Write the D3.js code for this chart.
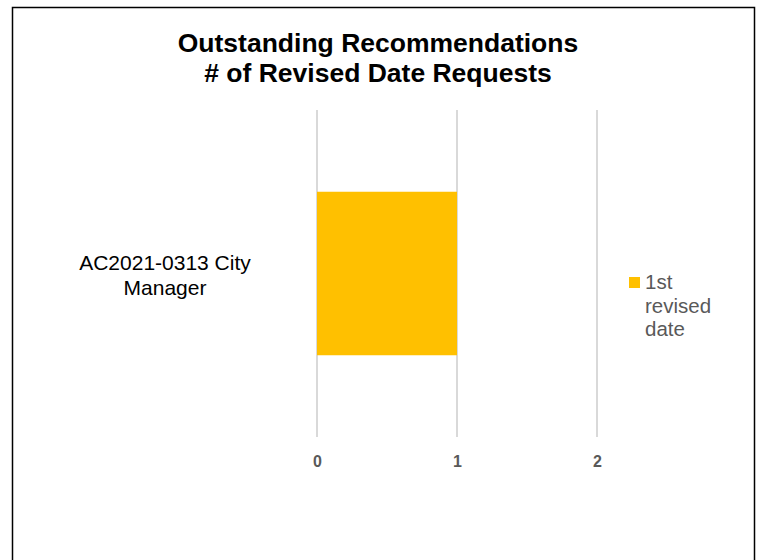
<!DOCTYPE html>
<html>
<head>
<meta charset="utf-8">
<script src="https://cdn.jsdelivr.net/npm/d3@7"></script>
<style>
  body { margin: 0; background: #fff; }
  svg { display: block; font-family: "Liberation Sans", Arial, sans-serif; }
</style>
</head>
<body>
<script>
// chart data
var categories = ["AC2021-0313 City Manager"];
var seriesNames = ["1st revised date"];
var seriesValues = [1];
var xTicks = [0, 1, 2];
var titleLines = ["Outstanding Recommendations", "# of Revised Date Requests"];

var width = 759, height = 560;
var plot = { left: 317, right: 597, top: 110, bottom: 437 };

var svg = d3.select("body").append("svg")
  .attr("width", width)
  .attr("height", height);

svg.append("rect")
  .attr("x", 12.5).attr("y", 7.5)
  .attr("width", 742).attr("height", 560)
  .attr("fill", "#fff")
  .attr("stroke", "#000")
  .attr("stroke-width", 1.5);

var x = d3.scaleLinear()
  .domain([0, 2])
  .range([plot.left, plot.right]);

// gap width 100%: bar takes half the category band
var y = d3.scaleBand()
  .domain(categories)
  .range([plot.top, plot.bottom])
  .paddingInner(0.5)
  .paddingOuter(0.25);

// gridlines
svg.append("g")
  .selectAll("line")
  .data(xTicks)
  .enter()
  .append("line")
  .attr("x1", function (d) { return x(d); })
  .attr("x2", function (d) { return x(d); })
  .attr("y1", plot.top)
  .attr("y2", plot.bottom)
  .attr("stroke", "#d9d9d9")
  .attr("stroke-width", 2);

// bars
svg.append("g")
  .selectAll("rect")
  .data(categories)
  .enter()
  .append("rect")
  .attr("x", x(0))
  .attr("y", function (d) { return y(d); })
  .attr("width", function (d, i) { return x(seriesValues[i]) - x(0); })
  .attr("height", y.bandwidth())
  .attr("fill", "#ffc000");

// x axis labels
var xAxis = d3.axisBottom(x)
  .tickValues(xTicks)
  .tickFormat(d3.format("d"))
  .tickSize(0)
  .tickPadding(19);
var gx = svg.append("g")
  .attr("transform", "translate(0," + plot.bottom + ")")
  .call(xAxis)
  .attr("font-size", 16)
  .attr("font-family", "Liberation Sans, Arial, sans-serif");
gx.select(".domain").remove();
gx.selectAll("text")
  .attr("fill", "#595959")
  .attr("font-weight", "bold");

// category labels (wrapped)
var catLines = [["AC2021-0313 City", "Manager"]];
categories.forEach(function (c, i) {
  var cy = y(c) + y.bandwidth() / 2;
  var t = svg.append("text")
    .attr("text-anchor", "middle")
    .attr("fill", "#000")
    .attr("font-size", 21);
  catLines[i].forEach(function (line, j) {
    t.append("tspan")
      .attr("x", 165)
      .attr("y", cy - 4 + j * 25)
      .text(line);
  });
});

// title
var title = svg.append("text")
  .attr("text-anchor", "middle")
  .attr("font-size", 26.5)
  .attr("font-weight", "bold")
  .attr("fill", "#000");
titleLines.forEach(function (line, j) {
  title.append("tspan")
    .attr("x", 378)
    .attr("y", 52 + j * 30)
    .text(line);
});

// legend
svg.append("rect")
  .attr("x", 629).attr("y", 277)
  .attr("width", 11).attr("height", 11)
  .attr("fill", "#ffc000");
var legendText = svg.append("text")
  .attr("fill", "#595959")
  .attr("font-size", 20.5);
["1st", "revised", "date"].forEach(function (line, j) {
  legendText.append("tspan")
    .attr("x", 645)
    .attr("y", 289 + j * 23.5)
    .text(line);
});
</script>
</body>
</html>
